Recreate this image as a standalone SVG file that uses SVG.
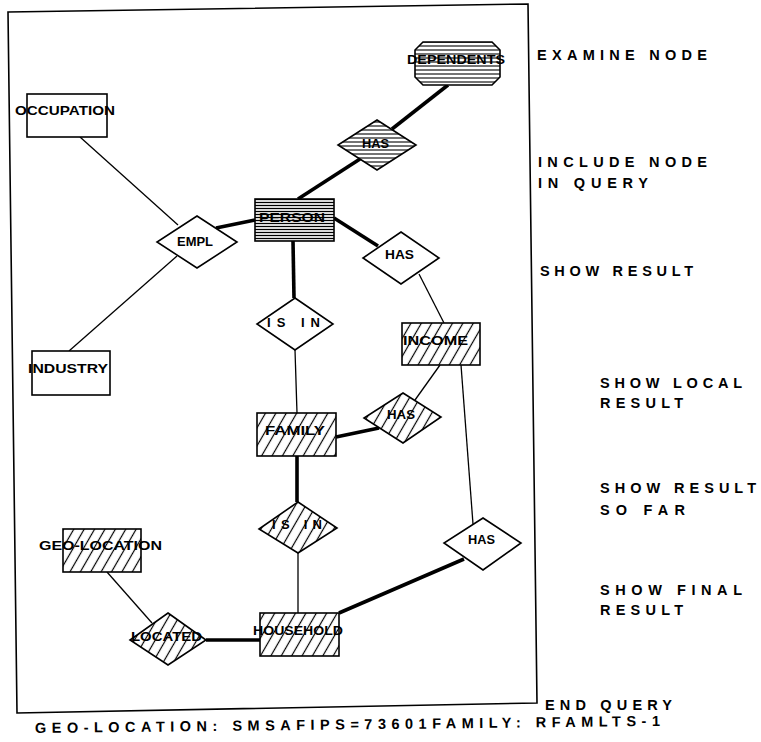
<svg xmlns="http://www.w3.org/2000/svg" width="761" height="742" viewBox="0 0 761 742">
<style>
  .bg { fill: #ffffff; }
  .frame { fill: none; stroke: #000; stroke-width: 1.6; }
  .node { stroke: #000; stroke-width: 1.6; }
  .plain { fill: #fff; }
  .hh { fill: url(#hatchH); }
  .hhd { fill: url(#hatchHD); }
  .hd { fill: url(#hatchD); }
  .lbl { font-family: "Liberation Sans", Arial, sans-serif; font-weight: bold; font-size: 13px; fill: #000; }
  .side { font-family: "Liberation Sans", Arial, sans-serif; font-weight: bold; font-size: 14.5px; fill: #000; }
  .thin { stroke: #000; stroke-width: 1.3; fill: none; }
  .thick { stroke: #000; stroke-width: 3.6; fill: none; }
</style>
<defs>
  <pattern id="hatchH" patternUnits="userSpaceOnUse" width="8" height="4">
    <rect width="8" height="4" fill="#fff"/>
    <line x1="0" y1="2" x2="8" y2="2" stroke="#000" stroke-width="1.1"/>
  </pattern>
  <pattern id="hatchHD" patternUnits="userSpaceOnUse" width="8" height="3">
    <rect width="8" height="3" fill="#fff"/>
    <line x1="0" y1="1.5" x2="8" y2="1.5" stroke="#000" stroke-width="1.3"/>
  </pattern>
  <pattern id="hatchD" patternUnits="userSpaceOnUse" width="9" height="9" patternTransform="rotate(30)">
    <rect width="9" height="9" fill="#fff"/>
    <line x1="4.5" y1="0" x2="4.5" y2="9" stroke="#000" stroke-width="1.2"/>
  </pattern>
</defs>
<rect class="bg" x="0" y="0" width="761" height="742"/>
<polygon id="frame" class="frame" points="8,12 528,4 537,703 17,713"/>

<g id="connectors">
  <line class="thin" x1="80" y1="137" x2="178" y2="225"/>
  <line class="thin" x1="177" y1="256" x2="69" y2="351"/>
  <line class="thick" x1="216" y1="228" x2="255" y2="220"/>
  <line class="thick" x1="298" y1="199" x2="360" y2="159"/>
  <line class="thick" x1="392" y1="129" x2="448" y2="85"/>
  <line class="thick" x1="334" y1="218" x2="378" y2="246"/>
  <line class="thin" x1="419" y1="274" x2="444" y2="323"/>
  <line class="thick" x1="293" y1="241" x2="294" y2="298"/>
  <line class="thin" x1="295" y1="350" x2="297" y2="413"/>
  <line class="thin" x1="440" y1="365" x2="415" y2="400"/>
  <line class="thick" x1="379" y1="428" x2="336" y2="437"/>
  <line class="thin" x1="461" y1="365" x2="473" y2="524"/>
  <line class="thick" x1="297" y1="456" x2="297" y2="502"/>
  <line class="thin" x1="298" y1="553" x2="298" y2="613"/>
  <line class="thick" x1="464" y1="559" x2="339" y2="613"/>
  <line class="thin" x1="107" y1="572" x2="152" y2="623"/>
  <line class="thick" x1="206" y1="640" x2="260" y2="640"/>
</g>

<g id="node-dependents">
  <polygon class="node hh" points="423,42 492,42 500,50 500,77 492,85 423,85 415,77 415,50"/>
  <text class="lbl" x="407" y="64" textLength="98" lengthAdjust="spacingAndGlyphs">DEPENDENTS</text>
</g>
<g id="node-has-dependents">
  <polygon class="node hh" points="377,120 416,145 377,170 338,145"/>
  <text class="lbl" x="362" y="148" textLength="27" lengthAdjust="spacingAndGlyphs">HAS</text>
</g>
<g id="node-person">
  <rect class="node hhd" x="255" y="199" width="79" height="42"/>
  <text class="lbl" x="259" y="222" textLength="66" lengthAdjust="spacingAndGlyphs">PERSON</text>
</g>
<g id="node-empl">
  <polygon class="node plain" points="197,216 237,242 197,268 157,242"/>
  <text class="lbl" x="177" y="246" textLength="36" lengthAdjust="spacingAndGlyphs">EMPL</text>
</g>
<g id="node-occupation">
  <rect class="node plain" x="27" y="94" width="80" height="43"/>
  <text class="lbl" x="15" y="115" textLength="100" lengthAdjust="spacingAndGlyphs">OCCUPATION</text>
</g>
<g id="node-industry">
  <rect class="node plain" x="32" y="351" width="78" height="44"/>
  <text class="lbl" x="28" y="373" textLength="80" lengthAdjust="spacingAndGlyphs">INDUSTRY</text>
</g>
<g id="node-has-income">
  <polygon class="node plain" points="401,232 439,258 401,284 363,258"/>
  <text class="lbl" x="385" y="259" textLength="29" lengthAdjust="spacingAndGlyphs">HAS</text>
</g>
<g id="node-isin-family">
  <polygon class="node plain" points="295,298 333,324 295,350 257,324"/>
  <text class="lbl" x="267" y="327" textLength="53" lengthAdjust="spacing">IS IN</text>
</g>
<g id="node-income">
  <rect class="node hd" x="402" y="323" width="78" height="42"/>
  <text class="lbl" x="403" y="345" textLength="65" lengthAdjust="spacingAndGlyphs">INCOME</text>
</g>
<g id="node-has-family">
  <polygon class="node hd" points="403,393 441,417 403,443 364,418"/>
  <text class="lbl" x="387" y="419" textLength="28" lengthAdjust="spacingAndGlyphs">HAS</text>
</g>
<g id="node-family">
  <rect class="node hd" x="257" y="413" width="79" height="43"/>
  <text class="lbl" x="265" y="435" textLength="60" lengthAdjust="spacingAndGlyphs">FAMILY</text>
</g>
<g id="node-isin-household">
  <polygon class="node hd" points="298,502 337,528 298,553 259,529"/>
  <text class="lbl" x="272" y="529" textLength="50" lengthAdjust="spacing">IS IN</text>
</g>
<g id="node-has-household">
  <polygon class="node plain" points="483,518 521,543 483,570 444,543"/>
  <text class="lbl" x="468" y="544" textLength="27" lengthAdjust="spacingAndGlyphs">HAS</text>
</g>
<g id="node-household">
  <rect class="node hd" x="260" y="613" width="79" height="43"/>
  <text class="lbl" x="253" y="635" textLength="90" lengthAdjust="spacingAndGlyphs">HOUSEHOLD</text>
</g>
<g id="node-geo-location">
  <rect class="node hd" x="63" y="529" width="78" height="43"/>
  <text class="lbl" x="39" y="550" textLength="123" lengthAdjust="spacingAndGlyphs">GEO-LOCATION</text>
</g>
<g id="node-located">
  <polygon class="node hd" points="168,613 206,640 168,665 130,640"/>
  <text class="lbl" x="131" y="641" textLength="71" lengthAdjust="spacingAndGlyphs">LOCATED</text>
</g>

<g id="menu">
  <text class="side" x="537" y="60" textLength="170" lengthAdjust="spacing">EXAMINE NODE</text>
  <text class="side" x="538" y="167" textLength="169" lengthAdjust="spacing">INCLUDE NODE</text>
  <text class="side" x="538" y="188" textLength="110" lengthAdjust="spacing">IN QUERY</text>
  <text class="side" x="540" y="276" textLength="153" lengthAdjust="spacing">SHOW RESULT</text>
  <text class="side" x="600" y="388" textLength="142" lengthAdjust="spacing">SHOW LOCAL</text>
  <text class="side" x="600" y="408" textLength="83" lengthAdjust="spacing">RESULT</text>
  <text class="side" x="600" y="493" textLength="156" lengthAdjust="spacing">SHOW RESULT</text>
  <text class="side" x="600" y="515" textLength="85" lengthAdjust="spacing">SO FAR</text>
  <text class="side" x="600" y="595" textLength="142" lengthAdjust="spacing">SHOW FINAL</text>
  <text class="side" x="600" y="615" textLength="83" lengthAdjust="spacing">RESULT</text>
  <text class="side" x="545" y="710" textLength="127" lengthAdjust="spacing">END QUERY</text>
</g>
<g id="status">
  <text class="side" font-size="15.5" x="35" y="733" textLength="625" lengthAdjust="spacing" transform="rotate(-0.65 35 733)">GEO-LOCATION: SMSAFIPS=73601FAMILY: RFAMLTS-1</text>
</g>
</svg>
